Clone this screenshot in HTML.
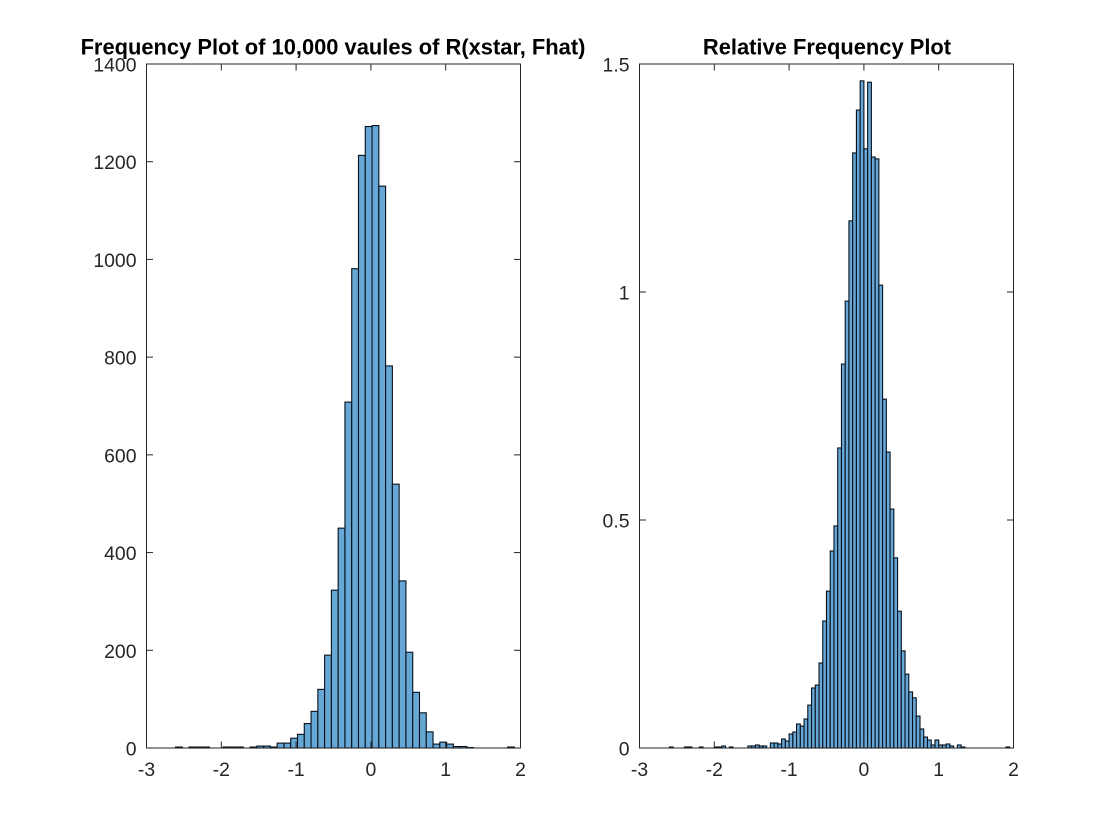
<!DOCTYPE html>
<html lang="en">
<head>
<meta charset="utf-8">
<title>Frequency plots of R(xstar, Fhat)</title>
<style>
html,body{margin:0;padding:0;background:#fff;width:1120px;height:840px;overflow:hidden}
svg{display:block;font-family:"Liberation Sans",Arial,sans-serif}
.tick-label{font-size:19.4px;fill:#262626}
.chart-title{font-size:21.9px;font-weight:bold;fill:#000}
</style>
</head>
<body>
<svg id="figure" xmlns="http://www.w3.org/2000/svg" width="1120" height="840" viewBox="0 0 1120 840">
  <rect x="0" y="0" width="1120" height="840" fill="#ffffff"/>
  <g id="left-panel"></g>
  <g id="right-panel"></g>
</svg>
<script>
const xTickValues = [-3, -2, -1, 0, 1, 2];
const leftYTickValues = [0, 200, 400, 600, 800, 1000, 1200, 1400];
const leftYTickLabels = ['0', '200', '400', '600', '800', '1000', '1200', '1400'];
const rightYTickValues = [0, 0.5, 1, 1.5];
const rightYTickLabels = ['0', '0.5', '1', '1.5'];
const leftTitle = 'Frequency Plot of 10,000 vaules of R(xstar, Fhat)';
const rightTitle = 'Relative Frequency Plot';

const leftBinStart = -2.612;
const leftBinWidth = 0.0906;
const leftCounts = [
  2, 0, 2, 2, 2, 0, 0, 2, 2, 2,
  0, 2, 4, 4, 2, 10, 10, 20, 28, 50,
  75, 120, 190, 323, 450, 708, 981, 1213, 1272, 1274,
  1150, 782, 540, 342, 196, 114, 72, 33, 8, 12,
  8, 3, 3, 1, 0, 0, 0, 0, 0, 2
];

const rightBinStart = -2.6;
const rightBinWidth = 0.05;
const rightDensity = [
  0.0022, 0, 0, 0, 0.0022, 0.0022, 0, 0, 0.0022, 0,
  0, 0, 0.0022, 0.0022, 0.0044, 0, 0.0022, 0, 0, 0,
  0, 0.0044, 0.0044, 0.0066, 0.0044, 0.0044, 0, 0.011, 0.011, 0.0088,
  0.0197, 0.0154, 0.0307, 0.035, 0.0526, 0.048, 0.0636, 0.094, 0.1316, 0.138,
  0.1864, 0.2785, 0.344, 0.432, 0.487, 0.658, 0.842, 0.98, 1.156, 1.305,
  1.399, 1.463, 1.314, 1.46, 1.296, 1.292, 1.015, 0.765, 0.649, 0.524,
  0.417, 0.3, 0.213, 0.162, 0.123, 0.11, 0.07, 0.0417, 0.024, 0.0175,
  0.0066, 0.0175, 0.0066, 0.0066, 0.0088, 0.0044, 0, 0.0066, 0.0022, 0,
  0, 0, 0, 0, 0, 0, 0, 0, 0, 0,
  0.0022
];

const SVG_NS = 'http://www.w3.org/2000/svg';
const AXIS_COLOR = '#262626';
const BAR_FILL = '#66a7d6';
const BAR_EDGE = '#05101c';
const TICK_LEN = 6.5;
const TOP = 64;
const BOTTOM = 748;
const X_MIN = -3;
const X_MAX = 2;

function create(parent, tag, attrs, text) {
  const el = document.createElementNS(SVG_NS, tag);
  Object.keys(attrs).forEach(function (k) { el.setAttribute(k, attrs[k]); });
  if (text !== undefined) el.textContent = text;
  parent.appendChild(el);
  return el;
}

function drawPanel(group, left, right, yMax, binStart, binWidth, values, yTicks, yLabels, title, titleX) {
  const xScale = function (v) { return left + (v - X_MIN) / (X_MAX - X_MIN) * (right - left); };
  const yScale = function (v) { return BOTTOM - v / yMax * (BOTTOM - TOP); };

  values.forEach(function (value, i) {
    const x0 = xScale(binStart + i * binWidth);
    const x1 = xScale(binStart + (i + 1) * binWidth);
    const yTop = yScale(value);
    const bar = create(group, 'rect', {
      x: x0, y: yTop, width: x1 - x0, height: BOTTOM - yTop,
      fill: BAR_FILL, stroke: BAR_EDGE, 'stroke-width': 1.1
    });
    
    
  });

  const box = create(group, 'rect', {
    x: left, y: TOP, width: right - left, height: BOTTOM - TOP,
    fill: 'none', stroke: AXIS_COLOR, 'stroke-width': 1
  });
  
  

  xTickValues.forEach(function (v) {
    const x = xScale(v);
    const tickBottom = create(group, 'line', { x1: x, x2: x, y1: BOTTOM, y2: BOTTOM - TICK_LEN, stroke: AXIS_COLOR, 'stroke-width': 1 });
    
    
    const tickTop = create(group, 'line', { x1: x, x2: x, y1: TOP, y2: TOP + TICK_LEN, stroke: AXIS_COLOR, 'stroke-width': 1 });
    
    
    const label = create(group, 'text', { x: x, y: BOTTOM + 28, 'text-anchor': 'middle', class: 'tick-label' }, String(v));
    
    
  });

  yTicks.forEach(function (v, i) {
    const y = yScale(v);
    const tickLeft = create(group, 'line', { x1: left, x2: left + TICK_LEN, y1: y, y2: y, stroke: AXIS_COLOR, 'stroke-width': 1 });
    
    
    const tickRight = create(group, 'line', { x1: right, x2: right - TICK_LEN, y1: y, y2: y, stroke: AXIS_COLOR, 'stroke-width': 1 });
    
    
    const label = create(group, 'text', { x: left - 10, y: y + 7.5, 'text-anchor': 'end', class: 'tick-label' }, yLabels[i]);
    
    
  });

  const heading = create(group, 'text', { x: titleX, y: TOP - 9.7, 'text-anchor': 'middle', class: 'chart-title' }, title);
  
  
}

drawPanel(document.getElementById('left-panel'), 146.5, 520.5, 1400, leftBinStart, leftBinWidth, leftCounts, leftYTickValues, leftYTickLabels, leftTitle, 333);
drawPanel(document.getElementById('right-panel'), 639.5, 1013.5, 1.5, rightBinStart, rightBinWidth, rightDensity, rightYTickValues, rightYTickLabels, rightTitle, 827);
</script>
</body>
</html>
